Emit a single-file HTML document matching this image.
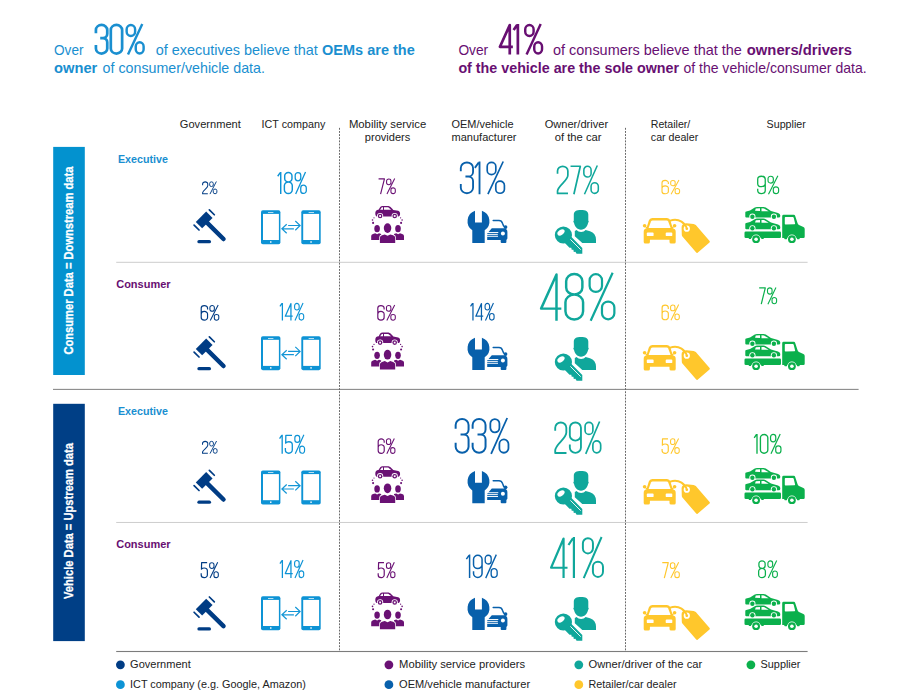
<!DOCTYPE html>
<html><head><meta charset="utf-8"><title>Data ownership</title>
<style>
html,body{margin:0;padding:0;background:#fff;}
body{width:904px;height:699px;overflow:hidden;font-family:"Liberation Sans",sans-serif;}
svg{display:block;font-family:"Liberation Sans",sans-serif;}
</style></head><body>
<svg width="904" height="699" viewBox="0 0 904 699">
<rect width="904" height="699" fill="#fff"/>
<text x="54.0" y="54.5" font-size="14.5" font-weight="400" fill="#1a8fd0" text-anchor="start" textLength="29.5" lengthAdjust="spacingAndGlyphs">Over</text>
<g transform="translate(95.00,24.00) scale(0.3062,0.3050)" fill="none" stroke="#1a8fd0" stroke-linejoin="round"><path transform="translate(0.0,0)" vector-effect="non-scaling-stroke" stroke-width="2.70" d="M3,30 V19.5 A18.5,16.5 0 0 1 40,19.5 V32 A14,14 0 0 1 26,46 H17 M26,46 A14,14 0 0 1 40,60 V80.5 A18.5,16.5 0 0 1 3,80.5 V69"/><path transform="translate(48.6,0)" vector-effect="non-scaling-stroke" stroke-width="2.70" d="M3,19.5 A18.5,16.5 0 0 1 40,19.5 V80.5 A18.5,16.5 0 0 1 3,80.5 Z"/><path transform="translate(99.9,0)" vector-effect="non-scaling-stroke" stroke-width="2.43" d="M3.5,17 A13.8,13.5 0 0 1 31.1,17 V25.6 A13.8,13.5 0 0 1 3.5,25.6 Z M33.2,73.4 A12.85,13.5 0 0 1 58.9,73.4 V83 A12.85,13.5 0 0 1 33.2,83 Z M54.5,0 L7.9,100"/></g>
<text x="155.8" y="54.5" font-size="14.5" font-weight="400" fill="#1a8fd0" text-anchor="start" textLength="162.0" lengthAdjust="spacingAndGlyphs">of executives believe that</text>
<text x="322.1" y="54.5" font-size="14.5" font-weight="700" fill="#1a8fd0" text-anchor="start" textLength="92.6" lengthAdjust="spacingAndGlyphs">OEMs are the</text>
<text x="54.0" y="73.2" font-size="14.5" font-weight="700" fill="#1a8fd0" text-anchor="start" textLength="43.3" lengthAdjust="spacingAndGlyphs">owner</text>
<text x="102.6" y="73.2" font-size="14.5" font-weight="400" fill="#1a8fd0" text-anchor="start" textLength="162.3" lengthAdjust="spacingAndGlyphs">of consumer/vehicle data.</text>
<text x="458.4" y="54.5" font-size="14.5" font-weight="400" fill="#680f72" text-anchor="start" textLength="29.8" lengthAdjust="spacingAndGlyphs">Over</text>
<g transform="translate(499.20,24.00) scale(0.3034,0.3050)" fill="none" stroke="#680f72" stroke-linejoin="round"><path transform="translate(0.0,0)" vector-effect="non-scaling-stroke" stroke-width="2.70" d="M34.8,100 V3.6 L2.5,74.8 H45"/><path transform="translate(45.0,0)" vector-effect="non-scaling-stroke" stroke-width="2.70" d="M2.5,19.5 L14,3 M16.5,0 V100"/><path transform="translate(82.3,0)" vector-effect="non-scaling-stroke" stroke-width="2.43" d="M3.5,17 A13.8,13.5 0 0 1 31.1,17 V25.6 A13.8,13.5 0 0 1 3.5,25.6 Z M33.2,73.4 A12.85,13.5 0 0 1 58.9,73.4 V83 A12.85,13.5 0 0 1 33.2,83 Z M54.5,0 L7.9,100"/></g>
<text x="553.0" y="54.5" font-size="14.5" font-weight="400" fill="#680f72" text-anchor="start" textLength="188.9" lengthAdjust="spacingAndGlyphs">of consumers believe that the</text>
<text x="746.8" y="54.5" font-size="14.5" font-weight="700" fill="#680f72" text-anchor="start" textLength="105.3" lengthAdjust="spacingAndGlyphs">owners/drivers</text>
<text x="458.4" y="73.2" font-size="14.5" font-weight="700" fill="#680f72" text-anchor="start" textLength="220.7" lengthAdjust="spacingAndGlyphs">of the vehicle are the sole owner</text>
<text x="683.4" y="73.2" font-size="14.5" font-weight="400" fill="#680f72" text-anchor="start" textLength="183.2" lengthAdjust="spacingAndGlyphs">of the vehicle/consumer data.</text>
<text x="179.8" y="127.7" font-size="11.6" font-weight="400" fill="#222222" text-anchor="start" textLength="61.0" lengthAdjust="spacingAndGlyphs">Government</text>
<text x="261.6" y="127.7" font-size="11.6" font-weight="400" fill="#222222" text-anchor="start" textLength="63.7" lengthAdjust="spacingAndGlyphs">ICT company</text>
<text x="348.9" y="127.7" font-size="11.6" font-weight="400" fill="#222222" text-anchor="start" textLength="77.3" lengthAdjust="spacingAndGlyphs">Mobility service</text>
<text x="364.8" y="141.1" font-size="11.6" font-weight="400" fill="#222222" text-anchor="start" textLength="45.5" lengthAdjust="spacingAndGlyphs">providers</text>
<text x="451.5" y="127.7" font-size="11.6" font-weight="400" fill="#222222" text-anchor="start" textLength="62.0" lengthAdjust="spacingAndGlyphs">OEM/vehicle</text>
<text x="451.5" y="141.1" font-size="11.6" font-weight="400" fill="#222222" text-anchor="start" textLength="65.0" lengthAdjust="spacingAndGlyphs">manufacturer</text>
<text x="544.7" y="127.7" font-size="11.6" font-weight="400" fill="#222222" text-anchor="start" textLength="63.4" lengthAdjust="spacingAndGlyphs">Owner/driver</text>
<text x="554.7" y="141.1" font-size="11.6" font-weight="400" fill="#222222" text-anchor="start" textLength="46.8" lengthAdjust="spacingAndGlyphs">of the car</text>
<text x="650.8" y="127.7" font-size="11.6" font-weight="400" fill="#222222" text-anchor="start" textLength="39.5" lengthAdjust="spacingAndGlyphs">Retailer/</text>
<text x="650.8" y="141.1" font-size="11.6" font-weight="400" fill="#222222" text-anchor="start" textLength="47.4" lengthAdjust="spacingAndGlyphs">car dealer</text>
<text x="766.6" y="127.7" font-size="11.6" font-weight="400" fill="#222222" text-anchor="start" textLength="39.2" lengthAdjust="spacingAndGlyphs">Supplier</text>
<rect x="53.2" y="146.9" width="31.6" height="228.1" fill="#0392cf"/>
<rect x="53.2" y="403.8" width="31.6" height="237.3" fill="#003f86"/>
<text transform="translate(72.8,354.6) rotate(-90)" font-size="12.4" font-weight="700" fill="#fff" stroke="#fff" stroke-width="0.3" textLength="188" lengthAdjust="spacingAndGlyphs">Consumer Data = Downstream data</text>
<text transform="translate(72.8,599) rotate(-90)" font-size="12.4" font-weight="700" fill="#fff" stroke="#fff" stroke-width="0.3" textLength="156" lengthAdjust="spacingAndGlyphs">Vehicle Data = Upstream data</text>
<rect x="116.2" y="261.8" width="691.4" height="1" fill="#cdcdcd"/>
<rect x="53" y="388.85" width="805.6" height="1.1" fill="#8a8a8a"/>
<rect x="116.2" y="521.95" width="691.4" height="1" fill="#cdcdcd"/>
<rect x="116.2" y="650.95" width="691.4" height="1.1" fill="#7c7c7c"/>
<line x1="339.5" y1="127.85" x2="339.5" y2="651" stroke="#6a6a6a" stroke-width="1" stroke-dasharray="1.9,1.236"/>
<line x1="625.5" y1="127.85" x2="625.5" y2="651" stroke="#6a6a6a" stroke-width="1" stroke-dasharray="1.9,1.236"/>
<text x="117.9" y="162.8" font-size="11.5" font-weight="700" fill="#1a8fd0" text-anchor="start" textLength="50.0" lengthAdjust="spacingAndGlyphs">Executive</text>
<text x="116.2" y="287.8" font-size="11.5" font-weight="700" fill="#680f72" text-anchor="start" textLength="54.4" lengthAdjust="spacingAndGlyphs">Consumer</text>
<text x="117.9" y="415.2" font-size="11.5" font-weight="700" fill="#1a8fd0" text-anchor="start" textLength="50.0" lengthAdjust="spacingAndGlyphs">Executive</text>
<text x="116.2" y="548.2" font-size="11.5" font-weight="700" fill="#680f72" text-anchor="start" textLength="54.4" lengthAdjust="spacingAndGlyphs">Consumer</text>
<g transform="translate(202.20,181.50) scale(0.1389,0.1260)" fill="none" stroke="#003c84" stroke-linejoin="round"><path transform="translate(0.0,0)" vector-effect="non-scaling-stroke" stroke-width="1.05" d="M3,29 V19.5 A18.5,16.5 0 0 1 40,19.5 V34 C40,54 3,70 3,90 V97.4 H40.5"/><path transform="translate(51.3,0)" vector-effect="non-scaling-stroke" stroke-width="0.95" d="M2.4,15.4 A13,12.5 0 0 1 28.4,15.4 V27.5 A13,12.5 0 0 1 2.4,27.5 Z M28.3,72.5 A13,12.5 0 0 1 54.3,72.5 V84.6 A13,12.5 0 0 1 28.3,84.6 Z M50.7,0 L4.6,100"/></g>
<g transform="translate(277.20,171.90) scale(0.2136,0.2220)" fill="none" stroke="#0d93d5" stroke-linejoin="round"><path transform="translate(0.0,0)" vector-effect="non-scaling-stroke" stroke-width="1.44" d="M2.5,19.5 L14,3 M16.5,0 V100"/><path transform="translate(30.6,0)" vector-effect="non-scaling-stroke" stroke-width="1.44" d="M21.5,2.6 A17,15 0 0 1 38.5,17.6 V30.5 A17,15 0 0 1 21.5,45.5 A17,15 0 0 1 4.5,30.5 V17.6 A17,15 0 0 1 21.5,2.6 Z M21.5,45.5 A18.5,16 0 0 1 40,61.5 V80.5 A18.5,16.9 0 0 1 3,80.5 V61.5 A18.5,16 0 0 1 21.5,45.5 Z"/><path transform="translate(81.9,0)" vector-effect="non-scaling-stroke" stroke-width="1.29" d="M2.4,15.4 A13,12.5 0 0 1 28.4,15.4 V27.5 A13,12.5 0 0 1 2.4,27.5 Z M28.3,72.5 A13,12.5 0 0 1 54.3,72.5 V84.6 A13,12.5 0 0 1 28.3,84.6 Z M50.7,0 L4.6,100"/></g>
<g transform="translate(378.40,178.50) scale(0.1680,0.1560)" fill="none" stroke="#6a1174" stroke-linejoin="round"><path transform="translate(0.0,0)" vector-effect="non-scaling-stroke" stroke-width="1.17" d="M1,2.6 H36 L13,100"/><path transform="translate(46.3,0)" vector-effect="non-scaling-stroke" stroke-width="1.06" d="M2.4,15.4 A13,12.5 0 0 1 28.4,15.4 V27.5 A13,12.5 0 0 1 2.4,27.5 Z M28.3,72.5 A13,12.5 0 0 1 54.3,72.5 V84.6 A13,12.5 0 0 1 28.3,84.6 Z M50.7,0 L4.6,100"/></g>
<g transform="translate(459.80,161.50) scale(0.3314,0.3270)" fill="none" stroke="#0860ab" stroke-linejoin="round"><path transform="translate(0.0,0)" vector-effect="non-scaling-stroke" stroke-width="1.86" d="M3,30 V19.5 A18.5,16.5 0 0 1 40,19.5 V32 A14,14 0 0 1 26,46 H17 M26,46 A14,14 0 0 1 40,60 V80.5 A18.5,16.5 0 0 1 3,80.5 V69"/><path transform="translate(43.0,0)" vector-effect="non-scaling-stroke" stroke-width="1.86" d="M2.5,19.5 L14,3 M16.5,0 V100"/><path transform="translate(80.3,0)" vector-effect="non-scaling-stroke" stroke-width="1.67" d="M2.4,15.4 A13,12.5 0 0 1 28.4,15.4 V27.5 A13,12.5 0 0 1 2.4,27.5 Z M28.3,72.5 A13,12.5 0 0 1 54.3,72.5 V84.6 A13,12.5 0 0 1 28.3,84.6 Z M50.7,0 L4.6,100"/></g>
<g transform="translate(556.70,165.50) scale(0.2790,0.2870)" fill="none" stroke="#10a79b" stroke-linejoin="round"><path transform="translate(0.0,0)" vector-effect="non-scaling-stroke" stroke-width="1.70" d="M3,29 V19.5 A18.5,16.5 0 0 1 40,19.5 V34 C40,54 3,70 3,90 V97.4 H40.5"/><path transform="translate(48.6,0)" vector-effect="non-scaling-stroke" stroke-width="1.70" d="M1,2.6 H36 L13,100"/><path transform="translate(94.9,0)" vector-effect="non-scaling-stroke" stroke-width="1.53" d="M2.4,15.4 A13,12.5 0 0 1 28.4,15.4 V27.5 A13,12.5 0 0 1 2.4,27.5 Z M28.3,72.5 A13,12.5 0 0 1 54.3,72.5 V84.6 A13,12.5 0 0 1 28.3,84.6 Z M50.7,0 L4.6,100"/></g>
<g transform="translate(661.50,180.00) scale(0.1713,0.1420)" fill="none" stroke="#ffc72c" stroke-linejoin="round"><path transform="translate(0.0,0)" vector-effect="non-scaling-stroke" stroke-width="1.12" d="M40,29 V19.5 A18.5,16.5 0 0 0 3,19.5 V80.5 A18.5,16.5 0 0 0 40,80.5 V57 A18.5,16 0 0 0 3,57"/><path transform="translate(51.3,0)" vector-effect="non-scaling-stroke" stroke-width="1.01" d="M2.4,15.4 A13,12.5 0 0 1 28.4,15.4 V27.5 A13,12.5 0 0 1 2.4,27.5 Z M28.3,72.5 A13,12.5 0 0 1 54.3,72.5 V84.6 A13,12.5 0 0 1 28.3,84.6 Z M50.7,0 L4.6,100"/></g>
<g transform="translate(757.10,175.70) scale(0.2037,0.1850)" fill="none" stroke="#0bb04c" stroke-linejoin="round"><path transform="translate(0.0,0)" vector-effect="non-scaling-stroke" stroke-width="1.29" d="M3,71 V80.5 A18.5,16.5 0 0 0 40,80.5 V19.5 A18.5,16.5 0 0 0 3,19.5 V43 A18.5,16 0 0 0 40,43"/><path transform="translate(51.3,0)" vector-effect="non-scaling-stroke" stroke-width="1.16" d="M2.4,15.4 A13,12.5 0 0 1 28.4,15.4 V27.5 A13,12.5 0 0 1 2.4,27.5 Z M28.3,72.5 A13,12.5 0 0 1 54.3,72.5 V84.6 A13,12.5 0 0 1 28.3,84.6 Z M50.7,0 L4.6,100"/></g>
<g transform="translate(200.70,305.10) scale(0.1713,0.1550)" fill="none" stroke="#003c84" stroke-linejoin="round"><path transform="translate(0.0,0)" vector-effect="non-scaling-stroke" stroke-width="1.17" d="M40,29 V19.5 A18.5,16.5 0 0 0 3,19.5 V80.5 A18.5,16.5 0 0 0 40,80.5 V57 A18.5,16 0 0 0 3,57"/><path transform="translate(51.3,0)" vector-effect="non-scaling-stroke" stroke-width="1.05" d="M2.4,15.4 A13,12.5 0 0 1 28.4,15.4 V27.5 A13,12.5 0 0 1 2.4,27.5 Z M28.3,72.5 A13,12.5 0 0 1 54.3,72.5 V84.6 A13,12.5 0 0 1 28.3,84.6 Z M50.7,0 L4.6,100"/></g>
<g transform="translate(279.50,302.90) scale(0.1750,0.1770)" fill="none" stroke="#0d93d5" stroke-linejoin="round"><path transform="translate(0.0,0)" vector-effect="non-scaling-stroke" stroke-width="1.26" d="M2.5,19.5 L14,3 M16.5,0 V100"/><path transform="translate(30.6,0)" vector-effect="non-scaling-stroke" stroke-width="1.26" d="M34.8,100 V3.6 L2.5,74.8 H45"/><path transform="translate(83.9,0)" vector-effect="non-scaling-stroke" stroke-width="1.13" d="M2.4,15.4 A13,12.5 0 0 1 28.4,15.4 V27.5 A13,12.5 0 0 1 2.4,27.5 Z M28.3,72.5 A13,12.5 0 0 1 54.3,72.5 V84.6 A13,12.5 0 0 1 28.3,84.6 Z M50.7,0 L4.6,100"/></g>
<g transform="translate(377.30,305.10) scale(0.1704,0.1550)" fill="none" stroke="#6a1174" stroke-linejoin="round"><path transform="translate(0.0,0)" vector-effect="non-scaling-stroke" stroke-width="1.17" d="M40,29 V19.5 A18.5,16.5 0 0 0 3,19.5 V80.5 A18.5,16.5 0 0 0 40,80.5 V57 A18.5,16 0 0 0 3,57"/><path transform="translate(51.3,0)" vector-effect="non-scaling-stroke" stroke-width="1.05" d="M2.4,15.4 A13,12.5 0 0 1 28.4,15.4 V27.5 A13,12.5 0 0 1 2.4,27.5 Z M28.3,72.5 A13,12.5 0 0 1 54.3,72.5 V84.6 A13,12.5 0 0 1 28.3,84.6 Z M50.7,0 L4.6,100"/></g>
<g transform="translate(470.10,302.90) scale(0.1735,0.1770)" fill="none" stroke="#0860ab" stroke-linejoin="round"><path transform="translate(0.0,0)" vector-effect="non-scaling-stroke" stroke-width="1.26" d="M2.5,19.5 L14,3 M16.5,0 V100"/><path transform="translate(30.6,0)" vector-effect="non-scaling-stroke" stroke-width="1.26" d="M34.8,100 V3.6 L2.5,74.8 H45"/><path transform="translate(83.9,0)" vector-effect="non-scaling-stroke" stroke-width="1.13" d="M2.4,15.4 A13,12.5 0 0 1 28.4,15.4 V27.5 A13,12.5 0 0 1 2.4,27.5 Z M28.3,72.5 A13,12.5 0 0 1 54.3,72.5 V84.6 A13,12.5 0 0 1 28.3,84.6 Z M50.7,0 L4.6,100"/></g>
<g transform="translate(539.90,272.80) scale(0.4767,0.4790)" fill="none" stroke="#10a79b" stroke-linejoin="round"><path transform="translate(0.0,0)" vector-effect="non-scaling-stroke" stroke-width="2.47" d="M34.8,100 V3.6 L2.5,74.8 H45"/><path transform="translate(50.6,0)" vector-effect="non-scaling-stroke" stroke-width="2.47" d="M21.5,2.6 A17,15 0 0 1 38.5,17.6 V30.5 A17,15 0 0 1 21.5,45.5 A17,15 0 0 1 4.5,30.5 V17.6 A17,15 0 0 1 21.5,2.6 Z M21.5,45.5 A18.5,16 0 0 1 40,61.5 V80.5 A18.5,16.9 0 0 1 3,80.5 V61.5 A18.5,16 0 0 1 21.5,45.5 Z"/><path transform="translate(101.9,0)" vector-effect="non-scaling-stroke" stroke-width="2.22" d="M2.4,15.4 A13,12.5 0 0 1 28.4,15.4 V27.5 A13,12.5 0 0 1 2.4,27.5 Z M28.3,72.5 A13,12.5 0 0 1 54.3,72.5 V84.6 A13,12.5 0 0 1 28.3,84.6 Z M50.7,0 L4.6,100"/></g>
<g transform="translate(661.60,304.60) scale(0.1676,0.1560)" fill="none" stroke="#ffc72c" stroke-linejoin="round"><path transform="translate(0.0,0)" vector-effect="non-scaling-stroke" stroke-width="1.17" d="M40,29 V19.5 A18.5,16.5 0 0 0 3,19.5 V80.5 A18.5,16.5 0 0 0 40,80.5 V57 A18.5,16 0 0 0 3,57"/><path transform="translate(51.3,0)" vector-effect="non-scaling-stroke" stroke-width="1.06" d="M2.4,15.4 A13,12.5 0 0 1 28.4,15.4 V27.5 A13,12.5 0 0 1 2.4,27.5 Z M28.3,72.5 A13,12.5 0 0 1 54.3,72.5 V84.6 A13,12.5 0 0 1 28.3,84.6 Z M50.7,0 L4.6,100"/></g>
<g transform="translate(759.00,287.40) scale(0.1748,0.1680)" fill="none" stroke="#0bb04c" stroke-linejoin="round"><path transform="translate(0.0,0)" vector-effect="non-scaling-stroke" stroke-width="1.22" d="M1,2.6 H36 L13,100"/><path transform="translate(46.3,0)" vector-effect="non-scaling-stroke" stroke-width="1.10" d="M2.4,15.4 A13,12.5 0 0 1 28.4,15.4 V27.5 A13,12.5 0 0 1 2.4,27.5 Z M28.3,72.5 A13,12.5 0 0 1 54.3,72.5 V84.6 A13,12.5 0 0 1 28.3,84.6 Z M50.7,0 L4.6,100"/></g>
<g transform="translate(202.10,441.00) scale(0.1417,0.1260)" fill="none" stroke="#003c84" stroke-linejoin="round"><path transform="translate(0.0,0)" vector-effect="non-scaling-stroke" stroke-width="1.05" d="M3,29 V19.5 A18.5,16.5 0 0 1 40,19.5 V34 C40,54 3,70 3,90 V97.4 H40.5"/><path transform="translate(51.3,0)" vector-effect="non-scaling-stroke" stroke-width="0.95" d="M2.4,15.4 A13,12.5 0 0 1 28.4,15.4 V27.5 A13,12.5 0 0 1 2.4,27.5 Z M28.3,72.5 A13,12.5 0 0 1 54.3,72.5 V84.6 A13,12.5 0 0 1 28.3,84.6 Z M50.7,0 L4.6,100"/></g>
<g transform="translate(279.10,434.80) scale(0.1869,0.1900)" fill="none" stroke="#0d93d5" stroke-linejoin="round"><path transform="translate(0.0,0)" vector-effect="non-scaling-stroke" stroke-width="1.31" d="M2.5,19.5 L14,3 M16.5,0 V100"/><path transform="translate(30.6,0)" vector-effect="non-scaling-stroke" stroke-width="1.31" d="M38.5,2.6 H5.5 L4.5,44 C8,39.5 14,36.5 21.5,36.5 A18.5,16 0 0 1 40,52.5 V80.5 A18.5,16.5 0 0 1 3,80.5 V69"/><path transform="translate(81.9,0)" vector-effect="non-scaling-stroke" stroke-width="1.18" d="M2.4,15.4 A13,12.5 0 0 1 28.4,15.4 V27.5 A13,12.5 0 0 1 2.4,27.5 Z M28.3,72.5 A13,12.5 0 0 1 54.3,72.5 V84.6 A13,12.5 0 0 1 28.3,84.6 Z M50.7,0 L4.6,100"/></g>
<g transform="translate(377.70,438.40) scale(0.1630,0.1540)" fill="none" stroke="#6a1174" stroke-linejoin="round"><path transform="translate(0.0,0)" vector-effect="non-scaling-stroke" stroke-width="1.17" d="M40,29 V19.5 A18.5,16.5 0 0 0 3,19.5 V80.5 A18.5,16.5 0 0 0 40,80.5 V57 A18.5,16 0 0 0 3,57"/><path transform="translate(51.3,0)" vector-effect="non-scaling-stroke" stroke-width="1.05" d="M2.4,15.4 A13,12.5 0 0 1 28.4,15.4 V27.5 A13,12.5 0 0 1 2.4,27.5 Z M28.3,72.5 A13,12.5 0 0 1 54.3,72.5 V84.6 A13,12.5 0 0 1 28.3,84.6 Z M50.7,0 L4.6,100"/></g>
<g transform="translate(454.60,418.00) scale(0.3493,0.3580)" fill="none" stroke="#0860ab" stroke-linejoin="round"><path transform="translate(0.0,0)" vector-effect="non-scaling-stroke" stroke-width="1.98" d="M3,30 V19.5 A18.5,16.5 0 0 1 40,19.5 V32 A14,14 0 0 1 26,46 H17 M26,46 A14,14 0 0 1 40,60 V80.5 A18.5,16.5 0 0 1 3,80.5 V69"/><path transform="translate(48.6,0)" vector-effect="non-scaling-stroke" stroke-width="1.98" d="M3,30 V19.5 A18.5,16.5 0 0 1 40,19.5 V32 A14,14 0 0 1 26,46 H17 M26,46 A14,14 0 0 1 40,60 V80.5 A18.5,16.5 0 0 1 3,80.5 V69"/><path transform="translate(99.9,0)" vector-effect="non-scaling-stroke" stroke-width="1.78" d="M2.4,15.4 A13,12.5 0 0 1 28.4,15.4 V27.5 A13,12.5 0 0 1 2.4,27.5 Z M28.3,72.5 A13,12.5 0 0 1 54.3,72.5 V84.6 A13,12.5 0 0 1 28.3,84.6 Z M50.7,0 L4.6,100"/></g>
<g transform="translate(554.30,421.50) scale(0.3008,0.3230)" fill="none" stroke="#10a79b" stroke-linejoin="round"><path transform="translate(0.0,0)" vector-effect="non-scaling-stroke" stroke-width="1.84" d="M3,29 V19.5 A18.5,16.5 0 0 1 40,19.5 V34 C40,54 3,70 3,90 V97.4 H40.5"/><path transform="translate(48.6,0)" vector-effect="non-scaling-stroke" stroke-width="1.84" d="M3,71 V80.5 A18.5,16.5 0 0 0 40,80.5 V19.5 A18.5,16.5 0 0 0 3,19.5 V43 A18.5,16 0 0 0 40,43"/><path transform="translate(99.9,0)" vector-effect="non-scaling-stroke" stroke-width="1.66" d="M2.4,15.4 A13,12.5 0 0 1 28.4,15.4 V27.5 A13,12.5 0 0 1 2.4,27.5 Z M28.3,72.5 A13,12.5 0 0 1 54.3,72.5 V84.6 A13,12.5 0 0 1 28.3,84.6 Z M50.7,0 L4.6,100"/></g>
<g transform="translate(661.60,438.40) scale(0.1667,0.1540)" fill="none" stroke="#ffc72c" stroke-linejoin="round"><path transform="translate(0.0,0)" vector-effect="non-scaling-stroke" stroke-width="1.17" d="M38.5,2.6 H5.5 L4.5,44 C8,39.5 14,36.5 21.5,36.5 A18.5,16 0 0 1 40,52.5 V80.5 A18.5,16.5 0 0 1 3,80.5 V69"/><path transform="translate(51.3,0)" vector-effect="non-scaling-stroke" stroke-width="1.05" d="M2.4,15.4 A13,12.5 0 0 1 28.4,15.4 V27.5 A13,12.5 0 0 1 2.4,27.5 Z M28.3,72.5 A13,12.5 0 0 1 54.3,72.5 V84.6 A13,12.5 0 0 1 28.3,84.6 Z M50.7,0 L4.6,100"/></g>
<g transform="translate(753.70,433.90) scale(0.1999,0.1990)" fill="none" stroke="#0bb04c" stroke-linejoin="round"><path transform="translate(0.0,0)" vector-effect="non-scaling-stroke" stroke-width="1.35" d="M2.5,19.5 L14,3 M16.5,0 V100"/><path transform="translate(30.6,0)" vector-effect="non-scaling-stroke" stroke-width="1.35" d="M3,19.5 A18.5,16.5 0 0 1 40,19.5 V80.5 A18.5,16.5 0 0 1 3,80.5 Z"/><path transform="translate(81.9,0)" vector-effect="non-scaling-stroke" stroke-width="1.21" d="M2.4,15.4 A13,12.5 0 0 1 28.4,15.4 V27.5 A13,12.5 0 0 1 2.4,27.5 Z M28.3,72.5 A13,12.5 0 0 1 54.3,72.5 V84.6 A13,12.5 0 0 1 28.3,84.6 Z M50.7,0 L4.6,100"/></g>
<g transform="translate(200.70,562.20) scale(0.1667,0.1590)" fill="none" stroke="#003c84" stroke-linejoin="round"><path transform="translate(0.0,0)" vector-effect="non-scaling-stroke" stroke-width="1.19" d="M38.5,2.6 H5.5 L4.5,44 C8,39.5 14,36.5 21.5,36.5 A18.5,16 0 0 1 40,52.5 V80.5 A18.5,16.5 0 0 1 3,80.5 V69"/><path transform="translate(51.3,0)" vector-effect="non-scaling-stroke" stroke-width="1.07" d="M2.4,15.4 A13,12.5 0 0 1 28.4,15.4 V27.5 A13,12.5 0 0 1 2.4,27.5 Z M28.3,72.5 A13,12.5 0 0 1 54.3,72.5 V84.6 A13,12.5 0 0 1 28.3,84.6 Z M50.7,0 L4.6,100"/></g>
<g transform="translate(279.50,560.00) scale(0.1750,0.1810)" fill="none" stroke="#0d93d5" stroke-linejoin="round"><path transform="translate(0.0,0)" vector-effect="non-scaling-stroke" stroke-width="1.27" d="M2.5,19.5 L14,3 M16.5,0 V100"/><path transform="translate(30.6,0)" vector-effect="non-scaling-stroke" stroke-width="1.27" d="M34.8,100 V3.6 L2.5,74.8 H45"/><path transform="translate(83.9,0)" vector-effect="non-scaling-stroke" stroke-width="1.15" d="M2.4,15.4 A13,12.5 0 0 1 28.4,15.4 V27.5 A13,12.5 0 0 1 2.4,27.5 Z M28.3,72.5 A13,12.5 0 0 1 54.3,72.5 V84.6 A13,12.5 0 0 1 28.3,84.6 Z M50.7,0 L4.6,100"/></g>
<g transform="translate(377.70,562.20) scale(0.1630,0.1590)" fill="none" stroke="#6a1174" stroke-linejoin="round"><path transform="translate(0.0,0)" vector-effect="non-scaling-stroke" stroke-width="1.19" d="M38.5,2.6 H5.5 L4.5,44 C8,39.5 14,36.5 21.5,36.5 A18.5,16 0 0 1 40,52.5 V80.5 A18.5,16.5 0 0 1 3,80.5 V69"/><path transform="translate(51.3,0)" vector-effect="non-scaling-stroke" stroke-width="1.07" d="M2.4,15.4 A13,12.5 0 0 1 28.4,15.4 V27.5 A13,12.5 0 0 1 2.4,27.5 Z M28.3,72.5 A13,12.5 0 0 1 54.3,72.5 V84.6 A13,12.5 0 0 1 28.3,84.6 Z M50.7,0 L4.6,100"/></g>
<g transform="translate(465.80,554.60) scale(0.2302,0.2350)" fill="none" stroke="#0860ab" stroke-linejoin="round"><path transform="translate(0.0,0)" vector-effect="non-scaling-stroke" stroke-width="1.49" d="M2.5,19.5 L14,3 M16.5,0 V100"/><path transform="translate(30.6,0)" vector-effect="non-scaling-stroke" stroke-width="1.49" d="M3,71 V80.5 A18.5,16.5 0 0 0 40,80.5 V19.5 A18.5,16.5 0 0 0 3,19.5 V43 A18.5,16 0 0 0 40,43"/><path transform="translate(81.9,0)" vector-effect="non-scaling-stroke" stroke-width="1.34" d="M2.4,15.4 A13,12.5 0 0 1 28.4,15.4 V27.5 A13,12.5 0 0 1 2.4,27.5 Z M28.3,72.5 A13,12.5 0 0 1 54.3,72.5 V84.6 A13,12.5 0 0 1 28.3,84.6 Z M50.7,0 L4.6,100"/></g>
<g transform="translate(550.10,537.00) scale(0.3871,0.4110)" fill="none" stroke="#10a79b" stroke-linejoin="round"><path transform="translate(0.0,0)" vector-effect="non-scaling-stroke" stroke-width="2.19" d="M34.8,100 V3.6 L2.5,74.8 H45"/><path transform="translate(45.0,0)" vector-effect="non-scaling-stroke" stroke-width="2.19" d="M2.5,19.5 L14,3 M16.5,0 V100"/><path transform="translate(82.3,0)" vector-effect="non-scaling-stroke" stroke-width="1.97" d="M2.4,15.4 A13,12.5 0 0 1 28.4,15.4 V27.5 A13,12.5 0 0 1 2.4,27.5 Z M28.3,72.5 A13,12.5 0 0 1 54.3,72.5 V84.6 A13,12.5 0 0 1 28.3,84.6 Z M50.7,0 L4.6,100"/></g>
<g transform="translate(662.10,562.20) scale(0.1709,0.1590)" fill="none" stroke="#ffc72c" stroke-linejoin="round"><path transform="translate(0.0,0)" vector-effect="non-scaling-stroke" stroke-width="1.19" d="M1,2.6 H36 L13,100"/><path transform="translate(46.3,0)" vector-effect="non-scaling-stroke" stroke-width="1.07" d="M2.4,15.4 A13,12.5 0 0 1 28.4,15.4 V27.5 A13,12.5 0 0 1 2.4,27.5 Z M28.3,72.5 A13,12.5 0 0 1 54.3,72.5 V84.6 A13,12.5 0 0 1 28.3,84.6 Z M50.7,0 L4.6,100"/></g>
<g transform="translate(758.10,560.40) scale(0.1824,0.1770)" fill="none" stroke="#0bb04c" stroke-linejoin="round"><path transform="translate(0.0,0)" vector-effect="non-scaling-stroke" stroke-width="1.26" d="M21.5,2.6 A17,15 0 0 1 38.5,17.6 V30.5 A17,15 0 0 1 21.5,45.5 A17,15 0 0 1 4.5,30.5 V17.6 A17,15 0 0 1 21.5,2.6 Z M21.5,45.5 A18.5,16 0 0 1 40,61.5 V80.5 A18.5,16.9 0 0 1 3,80.5 V61.5 A18.5,16 0 0 1 21.5,45.5 Z"/><path transform="translate(51.3,0)" vector-effect="non-scaling-stroke" stroke-width="1.13" d="M2.4,15.4 A13,12.5 0 0 1 28.4,15.4 V27.5 A13,12.5 0 0 1 2.4,27.5 Z M28.3,72.5 A13,12.5 0 0 1 54.3,72.5 V84.6 A13,12.5 0 0 1 28.3,84.6 Z M50.7,0 L4.6,100"/></g>
<defs><g id="i_gavel">
<g fill="#003c84" stroke="#003c84">
<g transform="translate(204.2,219.9) rotate(-45)">
<rect x="-7.4" y="-4.5" width="14.7" height="9" stroke="none"/>
<line x1="10.8" y1="-3.5" x2="10.8" y2="3.5" stroke-width="1.7" stroke-linecap="round"/>
<line x1="-10.8" y1="-3.5" x2="-10.8" y2="3.5" stroke-width="1.7" stroke-linecap="round"/>
</g>
<line x1="204.2" y1="219.9" x2="223.5" y2="239" stroke-width="4.5" stroke-linecap="round"/>
<line x1="199" y1="241.7" x2="209.4" y2="241.7" stroke-width="3.3" stroke-linecap="round"/>
</g>
</g>
<g id="i_phones">
<g>
<rect x="261" y="210.35" width="19.4" height="33.9" rx="1.8" fill="#0d93d5"/>
<rect x="263" y="213.9" width="15.9" height="26.1" fill="#fff"/>
<rect x="268" y="212.1" width="5.4" height="0.7" fill="#fff"/>
<rect x="270" y="241.3" width="1.5" height="1.4" fill="#fff"/>
<rect x="301.3" y="210.35" width="19.4" height="33.9" rx="1.8" fill="#0d93d5"/>
<rect x="303.2" y="213.9" width="15.9" height="26.1" fill="#fff"/>
<rect x="308.6" y="212.1" width="5.4" height="0.7" fill="#fff"/>
<rect x="310.3" y="241.3" width="1.5" height="1.4" fill="#fff"/>
<path d="M288.1,225.5 H300.1 M295.3,221 L300.1,225.5 L295.3,230.2 M293.9,228.8 H281.9 M286.7,224.3 L281.9,228.8 L286.7,233.3" fill="none" stroke="#1496d6" stroke-width="1.2"/>
</g>
</g>
<g id="i_mobility">
<g fill="#6a1174">
<path d="M375.3,213.6 C375.3,211.6 375.9,210.4 377.2,210 L378.8,209.6 C379.6,207.6 380.6,206 382.6,206 H388 C389.6,206 390.6,206.8 393.3,209.9 L398.2,210.8 C399.6,211.2 400.1,212.4 400.1,213.8 C400.1,215.2 399.4,216.5 398.4,216.5 H376.9 C375.9,216.5 375.3,215.2 375.3,213.6 Z"/>
<path d="M380.1,209.7 L381.9,207.3 H383 V209.7 Z M384,207.3 H388.2 L391.1,209.7 H384 Z" fill="#fff"/>
<circle cx="380.1" cy="216" r="3.1" fill="#fff"/><circle cx="380.1" cy="216" r="2.3"/><rect x="379.2" y="215.1" width="1.8" height="1.8" fill="#fff"/>
<circle cx="394.7" cy="216" r="3.1" fill="#fff"/><circle cx="394.7" cy="216" r="2.3"/><rect x="393.8" y="215.1" width="1.8" height="1.8" fill="#fff"/>
<circle cx="374" cy="217.8" r="0.6"/><circle cx="372.5" cy="220" r="0.8"/><circle cx="373.1" cy="222.9" r="1.05"/>
<circle cx="400.6" cy="217.8" r="0.6"/><circle cx="402.1" cy="220" r="0.8"/><circle cx="401.1" cy="222.9" r="1.05"/>
<!-- side people -->
<ellipse cx="377.1" cy="228.7" rx="2.8" ry="3.6"/>
<path d="M371.2,239.9 V236 Q371.2,234.3 373,233.9 L375.2,233.2 L377.1,234.2 L379,233.2 L381.2,233.9 V239.9 Z"/>
<ellipse cx="398" cy="228.7" rx="2.8" ry="3.6"/>
<path d="M404,239.9 V236 Q404,234.3 402.2,233.9 L400,233.2 L398.1,234.2 L396.2,233.2 L394,233.9 V239.9 Z"/>
<!-- center person -->
<path d="M379.2,243.6 V237.5 Q379.2,235.2 381.5,234.6 L384.8,233.7 L387.55,235 L390.3,233.7 L393.6,234.6 Q395.9,235.2 395.9,237.5 V243.6 Z" fill="#fff"/>
<ellipse cx="387.55" cy="228.1" rx="3.75" ry="4.85"/>
<path d="M379.9,242.9 V237.8 Q379.9,235.8 382,235.3 L384.8,234.5 L387.55,235.8 L390.3,234.5 L393.1,235.3 Q395.2,235.8 395.2,237.8 V242.9 Z"/>
</g>
</g>
<g id="i_wrench">
<g fill="#0860ab">
<path d="M475,210.7 A11.1,11.1 0 0 0 472.3,230.3 V243 H484.7 V230.3 A11.1,11.1 0 0 0 481.9,210.7 V222.6 H475 Z"/>
<path d="M493.2,220.5 H499 Q501.6,220.5 502.6,223.4 L503.6,226" fill="none" stroke="#0860ab" stroke-width="1.5" stroke-linecap="round"/>
<circle cx="505.5" cy="227.1" r="1.9"/>
<path d="M491.8,228.2 H504.2 Q507.4,228.6 507.4,232 V238.6 L506.4,239.9 V242 Q506.4,243 505.4,243 H501.7 Q500.7,243 500.7,242 V239.9 H487.2 V233.5 Z"/>
<circle cx="502.9" cy="233.6" r="2" fill="#fff"/>
<path d="M487,232.5 H498.3 M487,234.4 H497.8 M487,236.3 H498" stroke="#fff" stroke-width="0.95" fill="none"/>
</g>
</g>
<g id="i_key">
<g fill="#10a79b">
<path d="M573.8,220.8 V214.6 C573.8,211.3 576.4,210 581,210 C585.7,210 588.3,211.3 588.3,214.6 V220.8 C588.9,220.8 588.9,222.6 588.1,222.8 C587.6,226.4 584.9,229.7 581,229.7 C577.2,229.7 574.5,226.4 574,222.8 C573.2,222.6 573.2,220.8 573.8,220.8 Z"/>
<path d="M574.8,231 L576.6,230 C578.5,232.6 583.7,232.6 585.6,230 L590,231.2 Q595.8,233.2 596,239.5 V243.1 H582.3 L574.8,236.2 Z"/>
<!-- key -->
<path d="M570.4,235.2 L583.1,247.9 V254.4 H576 L564,242.4 Z" fill="#fff"/>
<circle cx="563.4" cy="235" r="9.3" fill="#fff"/>
<circle cx="563.4" cy="235" r="8.6"/>
<path d="M571.2,236.8 L582.3,247.9 V253.8 H576.6 L575.4,251.8 L573.8,251.9 L573.4,249.8 L571.7,249.8 L571.3,247.7 L569.5,247.7 L564.9,243.1 Z"/>
<ellipse cx="561" cy="232.4" rx="4" ry="2.5" transform="rotate(-35 561 232.4)" fill="#fff"/>
<line x1="570.4" y1="239.4" x2="580.7" y2="249.7" stroke="#fff" stroke-width="0.9"/>
</g>
</g>
<g id="i_tag">
<g fill="#ffc72c">
<path d="M646.2,229 L648.8,220.6 Q649.6,218 652.2,218 H667 Q669.6,218 670.4,220.6 L673,229 Z"/>
<path d="M648.6,228 L651,221.4 Q651.4,220.4 652.6,220.4 H666.6 Q667.8,220.4 668.2,221.4 L670.6,228 Z" fill="#fff"/>
<circle cx="644.6" cy="225.8" r="1.8"/><circle cx="674.6" cy="225.8" r="1.8"/>
<path d="M645,228.2 L646.5,226.5 L648,228.2 Z M671.2,228.2 L672.7,226.5 L674.2,228.2Z"/>
<path d="M643.7,231.7 Q643.7,228.4 647,228.4 H672.4 Q675.7,228.4 675.7,231.7 V242 Q675.7,243.6 674.1,243.6 H671.1 Q669.5,243.6 669.5,242 V239.8 H649.9 V242 Q649.9,243.6 648.3,243.6 H645.3 Q643.7,243.6 643.7,242 Z"/>
<rect x="646.8" y="232.5" width="6.8" height="3.6" rx="0.9" fill="#fff"/>
<rect x="665.7" y="232.5" width="6.6" height="3.6" rx="0.9" fill="#fff"/>
<path d="M670.2,220.6 C674,219.2 678,219.4 681.5,221.6 C684.5,223.5 686,226 686.8,228.7" fill="none" stroke="#ffc72c" stroke-width="2" stroke-linecap="round"/>
<path d="M681.6,227.6 Q681.4,223.6 686.4,223.2 L693.6,223.9 Q694.9,224.1 695.8,225.1 L709.6,241 Q710.2,241.8 709.5,242.5 L697.6,252.7 Q696.8,253.2 696.2,252.5 L682.4,236.6 Q681.8,235.9 681.8,234.8 Z"/>
<circle cx="686.8" cy="228.7" r="3.1" fill="#fff"/>
<circle cx="686.8" cy="228.7" r="1.3"/>
<path d="M684.5,224.5 Q686.4,226.3 686.8,228.7" fill="none" stroke="#ffc72c" stroke-width="1.8" stroke-linecap="round"/>
</g>
</g>
<g id="i_truck">
<g fill="#0bb04c">
<g id="tcar">
<path d="M745.3,212.4 Q745.3,211.6 746.2,211.4 L750,210.5 L754.8,207.6 Q755.8,207 757,207 H763.5 Q764.8,207 765.8,207.6 L771,210.9 L778,212.9 Q780.2,213.8 780.3,215.5 L780.2,216.6 Q780,217.6 779,217.6 H746.3 Q745.3,217.6 745.3,216.6 Z"/>
<path d="M755,210.8 L755.8,208.6 L760,208.3 V211 Z M761.5,208.3 L764,208.5 L768.7,211.2 H761.5 Z" fill="#fff"/>
<circle cx="752.4" cy="216.7" r="3.1" fill="#fff"/><circle cx="752.4" cy="216.7" r="2.2"/>
<circle cx="773.9" cy="216.7" r="3.1" fill="#fff"/><circle cx="773.9" cy="216.7" r="2.2"/>
</g>
<use href="#tcar" y="11.6"/>
<rect x="744.5" y="231.4" width="36.5" height="6.7" rx="1.3"/>
<path d="M748.5,238 h3 l-0.6,1 h-1.8 Z M761,238 h3 l-0.6,1 h-1.8 Z M784,238 h3.5 l-0.8,1.2 h-1.9 Z M796.5,238 h3.5 l-0.8,1.2 h-1.9 Z"/>
<path d="M782.2,216.2 Q782.2,214.8 783.6,214.8 H793.8 Q794.9,214.8 795.2,215.9 L797.6,223.3 Q797.9,224.4 799,224.9 L803.4,226.9 Q804.7,227.5 804.7,229 V236.8 Q804.7,238 803.5,238 H782.2 Z"/>
<path d="M784.8,217.8 Q784.8,217.1 785.5,217.1 H792.8 Q793.5,217.1 793.7,217.8 L795.1,223.4 Q795.3,224.2 794.5,224.2 L785.5,224.5 Q784.8,224.5 784.8,223.8 Z" fill="#fff"/>
<circle cx="756.1" cy="239.2" r="4.7" fill="#fff"/><circle cx="756.1" cy="239.2" r="3.9"/><circle cx="756.1" cy="239.2" r="1.8" fill="#fff"/>
<circle cx="791.9" cy="239.2" r="4.7" fill="#fff"/><circle cx="791.9" cy="239.2" r="3.9"/><circle cx="791.9" cy="239.2" r="1.8" fill="#fff"/>
</g>
</g>
</defs>
<use href="#i_gavel" y="0"/>
<use href="#i_phones" y="0"/>
<use href="#i_mobility" y="0"/>
<use href="#i_wrench" y="0"/>
<use href="#i_key" y="0"/>
<use href="#i_tag" y="0"/>
<use href="#i_truck" y="0"/>
<use href="#i_gavel" y="127"/>
<use href="#i_phones" y="125.9"/>
<use href="#i_mobility" y="126.6"/>
<use href="#i_wrench" y="127"/>
<use href="#i_key" y="127"/>
<use href="#i_tag" y="127"/>
<use href="#i_truck" y="127"/>
<use href="#i_gavel" y="260.5"/>
<use href="#i_phones" y="260.2"/>
<use href="#i_mobility" y="260.2"/>
<use href="#i_wrench" y="260.2"/>
<use href="#i_key" y="261"/>
<use href="#i_tag" y="261"/>
<use href="#i_truck" y="261"/>
<use href="#i_gavel" y="387.2"/>
<use href="#i_phones" y="386"/>
<use href="#i_mobility" y="386.4"/>
<use href="#i_wrench" y="387"/>
<use href="#i_key" y="387"/>
<use href="#i_tag" y="387"/>
<use href="#i_truck" y="387"/>
<circle cx="120.4" cy="664.8" r="4.4" fill="#003c84"/>
<text x="130.1" y="668.4" font-size="11.6" font-weight="400" fill="#222222" text-anchor="start" textLength="60.6" lengthAdjust="spacingAndGlyphs">Government</text>
<circle cx="120.4" cy="684.7" r="4.4" fill="#0d93d5"/>
<text x="130.1" y="688.3" font-size="11.6" font-weight="400" fill="#222222" text-anchor="start" textLength="175.7" lengthAdjust="spacingAndGlyphs">ICT company (e.g. Google, Amazon)</text>
<circle cx="388.9" cy="664.8" r="4.4" fill="#6a1174"/>
<text x="399.1" y="668.4" font-size="11.6" font-weight="400" fill="#222222" text-anchor="start" textLength="126.0" lengthAdjust="spacingAndGlyphs">Mobility service providers</text>
<circle cx="388.9" cy="684.7" r="4.4" fill="#0860ab"/>
<text x="399.1" y="688.3" font-size="11.6" font-weight="400" fill="#222222" text-anchor="start" textLength="131.0" lengthAdjust="spacingAndGlyphs">OEM/vehicle manufacturer</text>
<circle cx="578.8" cy="664.8" r="4.4" fill="#10a79b"/>
<text x="588.5" y="668.4" font-size="11.6" font-weight="400" fill="#222222" text-anchor="start" textLength="113.7" lengthAdjust="spacingAndGlyphs">Owner/driver of the car</text>
<circle cx="578.8" cy="684.7" r="4.4" fill="#ffc72c"/>
<text x="588.5" y="688.3" font-size="11.6" font-weight="400" fill="#222222" text-anchor="start" textLength="88.0" lengthAdjust="spacingAndGlyphs">Retailer/car dealer</text>
<circle cx="750.9" cy="664.8" r="4.4" fill="#0bb04c"/>
<text x="760.6" y="668.4" font-size="11.6" font-weight="400" fill="#222222" text-anchor="start" textLength="39.8" lengthAdjust="spacingAndGlyphs">Supplier</text>
</svg>
</body></html>
